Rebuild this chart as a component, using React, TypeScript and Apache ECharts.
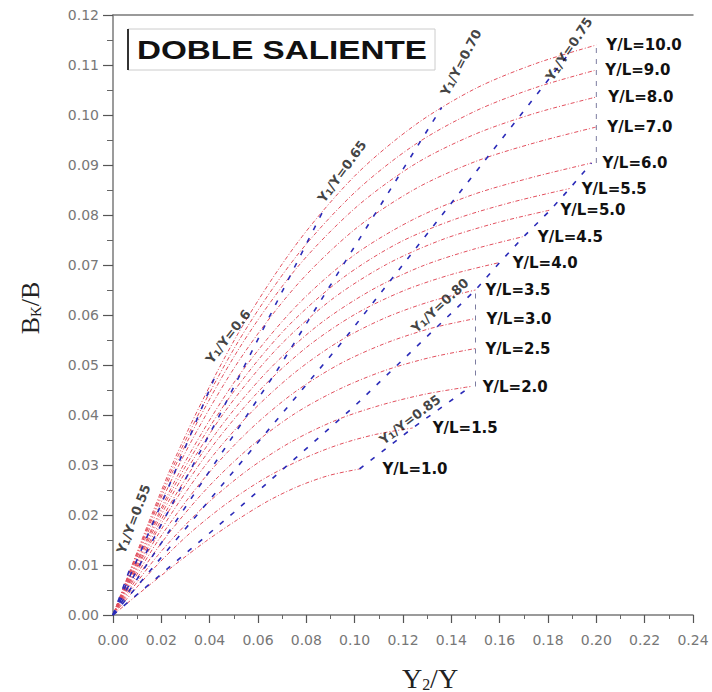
import React, { useEffect, useRef } from "react";
import * as echarts from "echarts";

// ---- Iso Y/L curves (x = Y2/Y, y = Bk/B) ----
const YL_NAMES = ["1.0", "1.5", "2.0", "2.5", "3.0", "3.5", "4.0", "4.5", "5.0", "5.5", "6.0", "7.0", "8.0", "9.0", "10.0"];

const YL_1_0 = [[0, 0], [0.0128, 0.0051], [0.0255, 0.0100], [0.0383, 0.0147], [0.051, 0.0189], [0.0638, 0.0227], [0.0765, 0.0257], [0.0893, 0.0279], [0.102, 0.0292]];
const YL_1_5 = [[0, 0], [0.0155, 0.0086], [0.031, 0.0160], [0.0465, 0.0221], [0.062, 0.0271], [0.0775, 0.0310], [0.093, 0.0340], [0.1085, 0.0361], [0.124, 0.0374]];
const YL_2_0 = [[0, 0], [0.0185, 0.0119], [0.037, 0.0214], [0.0555, 0.0289], [0.074, 0.0347], [0.0925, 0.0390], [0.111, 0.0420], [0.1295, 0.0442], [0.148, 0.0457]];
const YL_2_5 = [[0, 0], [0.0188, 0.0136], [0.0375, 0.0246], [0.0563, 0.0334], [0.075, 0.0402], [0.0938, 0.0452], [0.1125, 0.0489], [0.1313, 0.0515], [0.15, 0.0533]];
const YL_3_0 = [[0, 0], [0.0188, 0.0150], [0.0375, 0.0272], [0.0563, 0.0369], [0.075, 0.0445], [0.0938, 0.0502], [0.1125, 0.0543], [0.1313, 0.0573], [0.15, 0.0593]];
const YL_3_5 = [[0, 0], [0.0188, 0.0162], [0.0375, 0.0295], [0.0563, 0.0401], [0.075, 0.0484], [0.0938, 0.0548], [0.1125, 0.0594], [0.1313, 0.0627], [0.15, 0.0650]];
const YL_4_0 = [[0, 0], [0.02, 0.0183], [0.04, 0.0330], [0.06, 0.0446], [0.08, 0.0535], [0.1, 0.0601], [0.12, 0.0648], [0.14, 0.0681], [0.16, 0.0705]];
const YL_4_5 = [[0, 0], [0.0213, 0.0202], [0.0425, 0.0363], [0.0638, 0.0487], [0.085, 0.0580], [0.1063, 0.0648], [0.1275, 0.0697], [0.1488, 0.0731], [0.17, 0.0757]];
const YL_5_0 = [[0, 0], [0.0226, 0.0224], [0.0453, 0.0400], [0.0679, 0.0533], [0.0905, 0.0631], [0.1131, 0.0701], [0.1358, 0.0750], [0.1584, 0.0784], [0.181, 0.0810]];
const YL_5_5 = [[0, 0], [0.0236, 0.0242], [0.0473, 0.0429], [0.0709, 0.0570], [0.0945, 0.0672], [0.1181, 0.0744], [0.1418, 0.0792], [0.1654, 0.0826], [0.189, 0.0853]];
const YL_6_0 = [[0, 0], [0.0248, 0.0261], [0.0495, 0.0461], [0.0743, 0.0610], [0.099, 0.0717], [0.1238, 0.0790], [0.1485, 0.0840], [0.1733, 0.0875], [0.198, 0.0904]];
const YL_7_0 = [[0, 0], [0.025, 0.0278], [0.05, 0.0493], [0.075, 0.0654], [0.1, 0.0771], [0.125, 0.0852], [0.15, 0.0907], [0.175, 0.0945], [0.2, 0.0976]];
const YL_8_0 = [[0, 0], [0.025, 0.0290], [0.05, 0.0516], [0.075, 0.0688], [0.1, 0.0813], [0.125, 0.0902], [0.15, 0.0962], [0.175, 0.1004], [0.2, 0.1036]];
const YL_9_0 = [[0, 0], [0.025, 0.0298], [0.05, 0.0532], [0.075, 0.0712], [0.1, 0.0845], [0.125, 0.0941], [0.15, 0.1008], [0.175, 0.1055], [0.2, 0.1090]];
const YL_10_0 = [[0, 0], [0.025, 0.0306], [0.05, 0.0548], [0.075, 0.0736], [0.1, 0.0878], [0.125, 0.0980], [0.15, 0.1053], [0.175, 0.1103], [0.2, 0.1140]];

const YL_CURVES = [YL_1_0, YL_1_5, YL_2_0, YL_2_5, YL_3_0, YL_3_5, YL_4_0, YL_4_5, YL_5_0, YL_5_5, YL_6_0, YL_7_0, YL_8_0, YL_9_0, YL_10_0];
// horizontal gap (px) between each curve end and its label
const YL_LABEL_GAP = [23, 20, 12, 10, 11, 10, 13, 14, 10, 12, 11, 11, 12, 9, 10];

// ---- Iso Y1/Y lines ----
const Y1_NAMES = ["0.55", "0.6", "0.65", "0.70", "0.75", "0.80", "0.85"];
const Y1_055 = [[0, 0], [0.0075, 0.0099]];
const Y1_060 = [[0, 0], [0.0215, 0.0239], [0.043, 0.0486]];
const Y1_065 = [[0, 0], [0.0435, 0.0394], [0.087, 0.0809]];
const Y1_070 = [[0, 0], [0.068, 0.0490], [0.136, 0.1015]];
const Y1_075 = [[0, 0], [0.095, 0.0547], [0.189, 0.1125]];
const Y1_080 = [[0, 0], [0.05, 0.0205], [0.1, 0.0418], [0.15, 0.0650], [0.16, 0.0705], [0.17, 0.0757], [0.181, 0.0810], [0.189, 0.0853], [0.198, 0.0904]];
const Y1_085 = [[0.102, 0.0292], [0.124, 0.0374], [0.148, 0.0457]];
const Y1_LINES = [Y1_055, Y1_060, Y1_065, Y1_070, Y1_075, Y1_080, Y1_085];
// label anchors (data coords) and rotation (deg)
const Y1_LABEL_AT = [[0.0085, 0.0192], [0.0476, 0.0557], [0.0948, 0.0887], [0.144, 0.1105], [0.1887, 0.1132], [0.1353, 0.0619], [0.1229, 0.0391]];
const Y1_LABEL_ROT = [69, 52, 54, 62, 56, 43, 37];

// ---- Y2/Y limits ----
const LIMIT_015 = [[0.15, 0.0457], [0.15, 0.065]];
const LIMIT_020 = [[0.2, 0.0904], [0.2, 0.114]];

const AXIS_GREY = "#7a7a7a";
const LABEL_FONT = "DejaVu Sans";

export default function App() {
  const ref = useRef<HTMLDivElement>(null);

  useEffect(() => {
    if (!ref.current) return;
    const chart = echarts.init(ref.current, undefined, { renderer: "svg" });

    const redSeries = YL_CURVES.map((data, i) => ({
      type: "line",
      name: "Y/L=" + YL_NAMES[i],
      data,
      showSymbol: false,
      smooth: 0.3,
      silent: true,
      z: 2,
      lineStyle: { color: "#e2505e", width: 1, type: [4, 2, 1, 2] },
      endLabel: {
        show: true,
        formatter: () => "Y/L=" + YL_NAMES[i],
        distance: 0,
        offset: [YL_LABEL_GAP[i], 0],
        color: "#111",
        fontFamily: LABEL_FONT,
        fontWeight: "bold",
        fontSize: 15,
      },
    }));

    const blueSeries = Y1_LINES.map((data) => ({
      type: "line",
      data,
      showSymbol: false,
      silent: true,
      z: 3,
      lineStyle: { color: "#2b2bb8", width: 1.6, type: [5, 9] },
    }));

    const limitSeries = [LIMIT_015, LIMIT_020].map((data) => ({
      type: "line",
      data,
      showSymbol: false,
      silent: true,
      z: 3,
      lineStyle: { color: "#7c7ca0", width: 1, type: [5, 6] },
    }));

    const y1Labels = {
      type: "scatter",
      symbolSize: 1,
      silent: true,
      z: 6,
      itemStyle: { color: "rgba(0,0,0,0)" },
      data: Y1_LABEL_AT.map((p, i) => ({
        value: p,
        label: {
          show: true,
          rotate: Y1_LABEL_ROT[i],
          formatter: () => "Y{s|1}/Y=" + Y1_NAMES[i],
        },
      })),
      label: {
        show: true,
        position: "inside",
        color: "#111",
        fontFamily: LABEL_FONT,
        fontWeight: "bold",
        fontSize: 13,
        rich: {
          s: { fontSize: 9, fontFamily: LABEL_FONT, fontWeight: "bold", color: "#111", verticalAlign: "bottom" },
        },
      },
    };

    const option = {
      animation: false,
      backgroundColor: "#fff",
      grid: { left: 113, right: 19, top: 15, bottom: 77 },
      xAxis: [
        {
          type: "value",
          min: 0,
          max: 0.24,
          interval: 0.02,
          axisLine: { show: true, onZero: false, lineStyle: { color: AXIS_GREY, width: 1.5 } },
          axisTick: { show: true, length: 8, lineStyle: { color: "#555", width: 1.2 } },
          minorTick: { show: true, splitNumber: 2, length: 4, lineStyle: { color: "#666", width: 1 } },
          splitLine: { show: false },
          axisLabel: {
            margin: 18,
            color: "#777",
            fontFamily: LABEL_FONT,
            fontSize: 14,
            formatter: (v: number) => v.toFixed(2),
          },
        },
        {
          type: "value",
          position: "top",
          min: 0,
          max: 0.24,
          axisLine: { show: true, onZero: false, lineStyle: { color: AXIS_GREY, width: 1.5 } },
          axisTick: { show: false },
          axisLabel: { show: false },
          splitLine: { show: false },
        },
      ],
      yAxis: {
        type: "value",
        min: 0,
        max: 0.12,
        interval: 0.01,
        axisLine: { show: true, onZero: false, lineStyle: { color: AXIS_GREY, width: 1.5 } },
        axisTick: { show: true, length: 10, lineStyle: { color: "#555", width: 1.2 } },
        minorTick: { show: true, splitNumber: 2, length: 6, lineStyle: { color: "#666", width: 1 } },
        splitLine: { show: false },
        axisLabel: {
          margin: 14,
          color: "#777",
          fontFamily: LABEL_FONT,
          fontSize: 14,
          formatter: (v: number) => v.toFixed(2),
        },
      },
      graphic: [
        {
          type: "rect",
          z: 10,
          shape: { x: 128, y: 29, width: 307, height: 41 },
          style: { fill: "#fff", stroke: "#cccccc", lineWidth: 1 },
        },
        {
          type: "line",
          z: 11,
          shape: { x1: 128, y1: 29, x2: 128, y2: 70 },
          style: { stroke: "#333", lineWidth: 2 },
        },
        {
          type: "text",
          z: 11,
          x: 137,
          y: 50,
          scaleX: 1.33,
          style: {
            text: "DOBLE SALIENTE",
            fill: "#111",
            fontFamily: "Liberation Sans",
            fontWeight: "bold",
            fontSize: 25,
            textAlign: "left",
            textVerticalAlign: "middle",
          },
        },
        {
          type: "text",
          z: 11,
          x: 30,
          y: 308,
          rotation: Math.PI / 2,
          style: {
            text: "B{s|K}/B",
            fill: "#222",
            fontFamily: "Liberation Serif",
            fontSize: 26,
            textAlign: "center",
            textVerticalAlign: "middle",
            rich: {
              s: { fontFamily: "Liberation Serif", fontSize: 15, fill: "#222", verticalAlign: "bottom" },
            },
          },
        },
        {
          type: "text",
          z: 11,
          x: 430,
          y: 678,
          style: {
            text: "Y{s|2}/Y",
            fill: "#222",
            fontFamily: "Liberation Serif",
            fontSize: 28,
            textAlign: "center",
            textVerticalAlign: "middle",
            rich: {
              s: { fontFamily: "Liberation Serif", fontSize: 16, fill: "#222", verticalAlign: "bottom" },
            },
          },
        },
      ],
      series: [...redSeries, ...limitSeries, ...blueSeries, y1Labels],
    };

    chart.setOption(option as any);
    return () => chart.dispose();
  }, []);

  return (
    <div
      ref={ref}
      style={{ position: "absolute", left: 0, top: 0, width: 712, height: 692, background: "#fff" }}
    />
  );
}
